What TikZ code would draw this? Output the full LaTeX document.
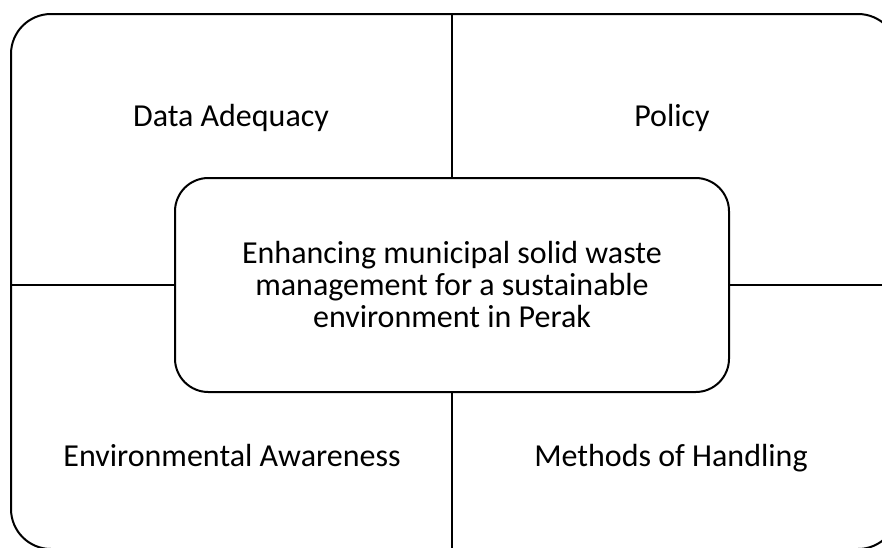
\documentclass[tikz,border=0pt]{standalone}
\usepackage{fontspec}
\setmainfont{Carlito}
\begin{document}
\begin{tikzpicture}[x=0.75pt,y=-0.75pt,line width=1.5pt,
    every node/.style={font=\fontsize{24}{24}\selectfont}]

        \useasboundingbox (0,0) rectangle (882,547);
        \clip (0,0) rectangle (882,547);

        \begin{scope}[every node/.style={draw,rounded corners=30pt,inner sep=0pt}]
          \node (frame) at (454.5,281.5) [minimum width=665.25pt,minimum height=401.25pt] {};
        \end{scope}

        \begin{scope}[every node/.style={draw,rounded corners=25pt,align=center,
            font=\fontsize{24}{24}\selectfont}]
          \node (core) at (452,285) [minimum width=415.5pt,minimum height=160.5pt]
            {Enhancing municipal solid waste\\management for a sustainable\\environment in Perak};
        \end{scope}

        \begin{scope}[every node/.style={anchor=base,font=\fontsize{24}{24}\selectfont}]
          \node (data)   at (231,126) {Data Adequacy};
          \node (policy) at (672,126) {Policy};
          \node (aware)  at (232,466) {Environmental Awareness};
          \node (handle) at (671,466) {Methods of Handling};
        \end{scope}

        \coordinate (top)    at (frame.north -| core.north);
        \coordinate (bottom) at (frame.south -| core.south);
        \coordinate (left)   at (frame.west |- core.west);
        \coordinate (right)  at (frame.east |- core.east);

        \draw (top)    -- (core.north);
        \draw (core.south) -- (bottom);
        \draw (left)   -- (core.west);
        \draw (core.east) -- (right);

      \end{tikzpicture}
\end{document}
